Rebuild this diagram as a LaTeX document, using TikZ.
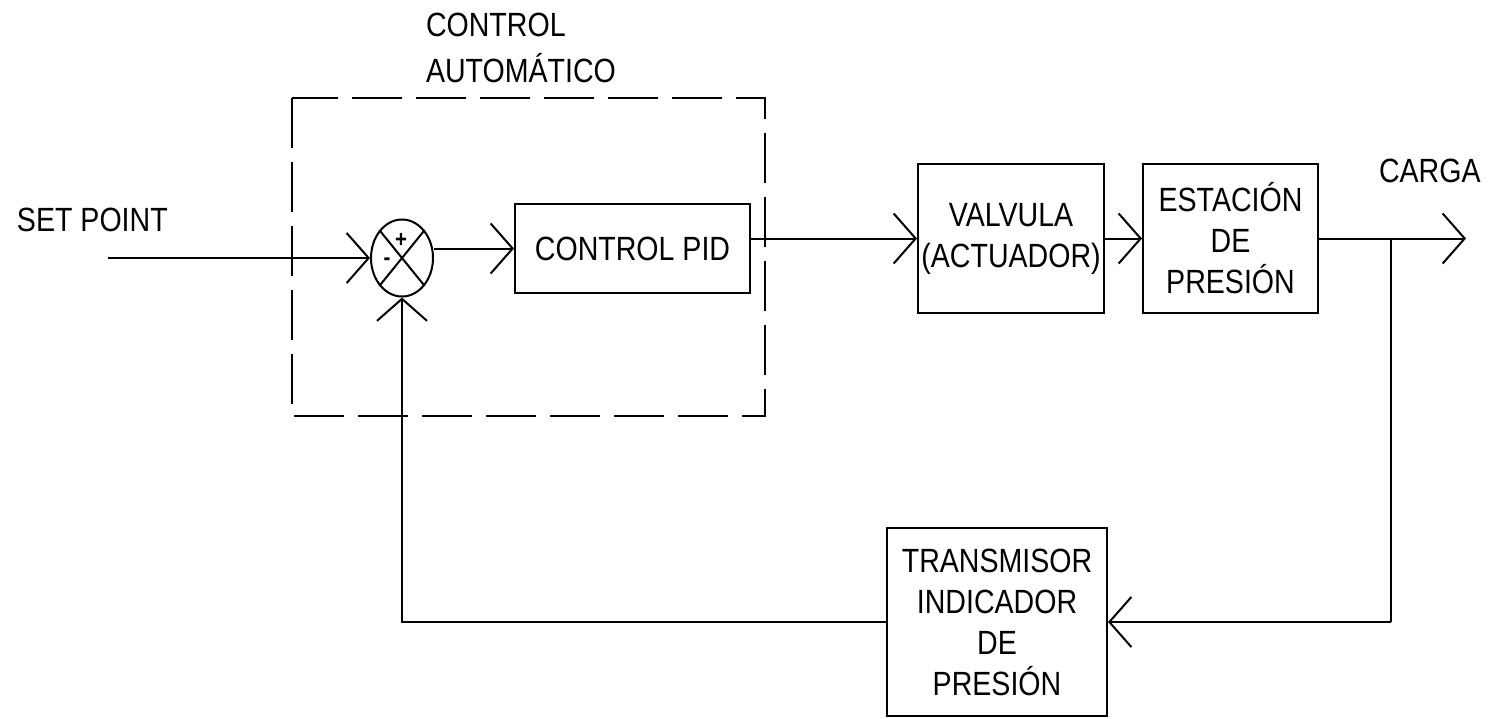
\documentclass[tikz,border=0pt]{standalone}
\usepackage{fontspec}
\setmainfont{Liberation Sans}[FakeStretch=0.85]
\usetikzlibrary{arrows.meta,shapes.geometric}
\begin{document}
\begin{tikzpicture}[x=0.5pt,y=-0.5pt,line width=1pt,
  every node/.style={font=\fontsize{16.8}{20.5}\selectfont},
  blk/.style={draw,rectangle,inner sep=0pt,align=center},
  lbl/.style={inner sep=0pt,anchor=base west},
  sgn/.style={inner sep=0pt,font=\fontsize{12}{12}\selectfont\bfseries},
  arr/.style={-{Straight Barb[length=11pt,width=25pt,line width=1pt]}},
  dsh/.style={dash pattern=on 25pt off 7pt}]
\useasboundingbox (0,0) rectangle (1488,718);
% dashed controller frame
\draw[dsh] (292,98) rectangle (765,416);
\node[lbl] (t1) at (425,36) {CONTROL};
\node[lbl] (t2) at (425,82) {AUTOMÁTICO};
% summing junction
\node[draw,ellipse,minimum width=31pt,minimum height=38.5pt,inner sep=0pt] (sum) at (402,258) {};
\draw (sum.north west) -- (sum.south east);
\draw (sum.north east) -- (sum.south west);
\node[sgn] (plus) at (401,240) {+};
\node[sgn] (minus) at (387,262) {-};
% blocks
\node[blk,minimum width=117.5pt,minimum height=44.5pt] (pid) at (632.5,248.5) {CONTROL PID};
\node[blk,minimum width=93pt,minimum height=74.5pt] (valve) at (1011,238.5) {VALVULA\\(ACTUADOR)};
\node[blk,minimum width=87.5pt,minimum height=74.5pt] (est) at (1230.5,238.5) {ESTACIÓN\\DE\\PRESIÓN};
\node[blk,minimum width=110pt,minimum height=94pt] (trans) at (997,622) {TRANSMISOR\\INDICADOR\\DE\\PRESIÓN};
% labels
\node[lbl] (sp) at (16,231) {SET POINT};
\node[lbl] (carga) at (1378,182) {CARGA};
% coordinates
\coordinate (spin) at (108,258);
\coordinate (out) at (1466,238.5);
\coordinate (br) at (1391,238.5);
\coordinate (brd) at (1391,622);
% connectors
\draw[arr] (spin) -- (sum.west);
\draw[arr] (pid.west -| sum.east) -- (pid.west);
\draw[arr] (pid.east |- valve.west) -- (valve.west);
\draw[arr] (valve.east) -- (est.west);
\draw[arr] (est.east) -- (out);
\draw (br) -- (brd);
\draw[arr] (brd) -- (trans.east);
\draw[arr] (trans.west) -| (sum.south);
\end{tikzpicture}
\end{document}
